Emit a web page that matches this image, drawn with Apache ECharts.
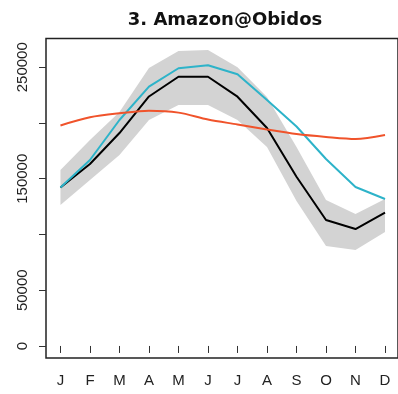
<!DOCTYPE html>
<html>
<head>
<meta charset="utf-8">
<script src="https://cdn.jsdelivr.net/npm/echarts@6/dist/echarts.min.js"></script>
<style>
  html, body { margin: 0; padding: 0; background: #fff; }
  #chart { width: 398px; height: 394px; }
</style>
</head>
<body>
<div id="chart"></div>
<script>
// Month positions and their one-letter labels
const monthPos = [1, 2, 3, 4, 5, 6, 7, 8, 9, 10, 11, 12];
const monthLabels = ['J', 'F', 'M', 'A', 'M', 'J', 'J', 'A', 'S', 'O', 'N', 'D'];

// Y-axis ticks and the labels that are printed
const yTicks = [0, 50000, 100000, 150000, 200000, 250000];
const yLabelValues = [0, 50000, 150000, 250000];

// Monthly discharge series
const ensembleMean = [142200, 163200, 191000, 223800, 241500, 241500, 223600, 195500, 151800, 113000, 104900, 119600];
const observed     = [142200, 166800, 202700, 232600, 249100, 251800, 243700, 220600, 196900, 167700, 142600, 131800];
const reference    = [197800, 205100, 208700, 211000, 209300, 203100, 198700, 194200, 190100, 187500, 185700, 189200];

// Ensemble spread (upper and lower envelope)
const spreadUpper = [157900, 184800, 209900, 249300, 264600, 265500, 250000, 223300, 178500, 131000, 118400, 131800];
const spreadLower = [126500, 148900, 171300, 202700, 216100, 216100, 202700, 178500, 130000,  89700,  86100, 102200];

const pairs = (vals) => monthPos.map((m, i) => [m, vals[i]]);
const spreadRows = monthPos.map((m, i) => [m, spreadLower[i], spreadUpper[i]]);

const chart = echarts.init(document.getElementById('chart'), null, { renderer: 'canvas' });

const labelFont = '"Liberation Sans", Arial, sans-serif';

// The spread is drawn as one closed polygon: along the upper envelope, back along the lower one
function renderSpread(params, api) {
  if (params.dataIndex !== 0) return null;
  const top = spreadRows.map((r) => api.coord([r[0], r[2]]));
  const bottom = spreadRows.map((r) => api.coord([r[0], r[1]])).reverse();
  return {
    type: 'polygon',
    shape: { points: top.concat(bottom) },
    style: { fill: '#d3d3d3', stroke: null }
  };
}

chart.setOption({
  animation: false,
  backgroundColor: '#ffffff',
  title: {
    text: '3. Amazon@Obidos',
    left: 220,
    top: 6,
    textAlign: 'center',
    textStyle: { fontFamily: '"DejaVu Sans", sans-serif', fontWeight: 'bold', fontSize: 18, color: '#111' }
  },
  grid: {
    left: 46, top: 38.5, width: 358, height: 319.5,
    show: true, borderColor: '#222', borderWidth: 1.5, backgroundColor: 'transparent'
  },
  xAxis: {
    type: 'value',
    min: 0.51, max: 12.44,
    axisLine: { show: false },
    splitLine: { show: false },
    axisTick: { show: true, length: 7, lineStyle: { color: '#333', width: 1 }, customValues: monthPos },
    axisLabel: {
      customValues: monthPos,
      margin: 15,
      fontSize: 15, color: '#222', fontFamily: labelFont,
      formatter: (v) => monthLabels[Math.round(v) - 1]
    }
  },
  yAxis: {
    type: 'value',
    min: -10800, max: 275800,
    axisLine: { show: false },
    splitLine: { show: false },
    axisTick: { show: true, length: 7, lineStyle: { color: '#333', width: 1 }, customValues: yTicks },
    axisLabel: {
      customValues: yLabelValues,
      rotate: 90,
      margin: 16,
      fontSize: 15, color: '#222', fontFamily: labelFont,
      formatter: (v) => String(v)
    }
  },
  series: [
    {
      name: 'spread', type: 'custom', data: spreadRows,
      encode: { x: 0, y: [1, 2] },
      renderItem: renderSpread, silent: true, z: 1
    },
    {
      name: 'ensembleMean', type: 'line', data: pairs(ensembleMean),
      symbol: 'none', lineStyle: { color: '#000000', width: 2 }, z: 3
    },
    {
      name: 'observed', type: 'line', data: pairs(observed),
      symbol: 'none', lineStyle: { color: '#2db3c9', width: 2 }, z: 4
    },
    {
      name: 'reference', type: 'line', data: pairs(reference), smooth: 0.3,
      symbol: 'none', lineStyle: { color: '#f0532b', width: 2 }, z: 5
    }
  ]
});
</script>
</body>
</html>
